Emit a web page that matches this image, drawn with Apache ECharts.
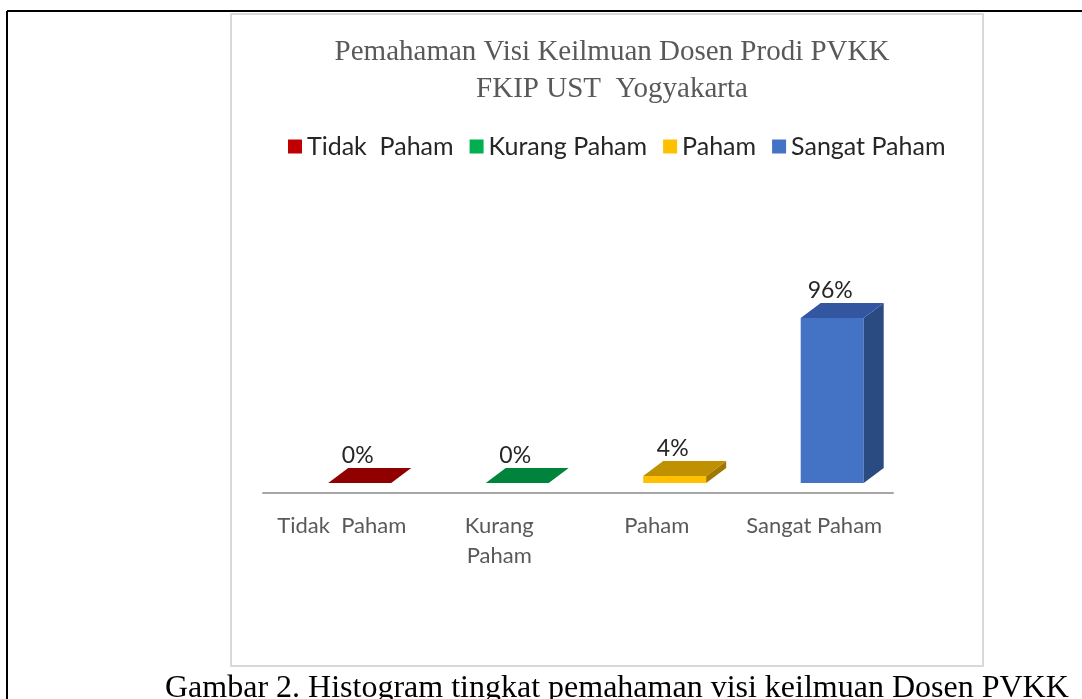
<!DOCTYPE html>
<html>
<head>
<meta charset="utf-8">
<script src="https://cdn.jsdelivr.net/npm/echarts@6/dist/echarts.min.js"></script>
<style>
html,body{margin:0;padding:0;background:#fff;}
#chart{width:1082px;height:699px;}
</style>
</head>
<body>
<div id="chart"></div>
<script>
// ---- data ----
const categories = ['Tidak  Paham', 'Kurang Paham', 'Paham', 'Sangat Paham'];
const values = [0, 0, 4, 96];
const titleLines = ['Pemahaman Visi Keilmuan Dosen Prodi PVKK', 'FKIP UST  Yogyakarta'];
const captionText = 'Gambar 2. Histogram tingkat pemahaman visi keilmuan Dosen PVKK';

// ---- styles ----
const frontColors = ['#C00000', '#00B050', '#FFC000', '#4472C4'];
const topColors = ['#900000', '#00843C', '#BF9000', '#3356A0'];
const sideColors = ['#7A0000', '#006E33', '#A07800', '#2A4A82'];
const sansFont = 'Lato';

function makeRender(idx) {
  return function (params, api) {
    const ci = api.value(0), v = api.value(1);
    const t = api.coord([ci, v]);
    const b = api.coord([ci, 0]);
    const band = api.size([1, 0])[0];
    const w = band * 0.4;
    const x0 = b[0] - band * 0.086;
    const dx = 20, dy = 15;
    const ty = t[1], by = b[1];
    const children = [];
    if (by - ty > 0.5) {
      children.push({type: 'rect', shape: {x: x0, y: ty, width: w, height: by - ty}, style: {fill: frontColors[idx]}});
      children.push({type: 'polygon', shape: {points: [[x0 + w, ty], [x0 + w + dx, ty - dy], [x0 + w + dx, by - dy], [x0 + w, by]]}, style: {fill: sideColors[idx]}});
    }
    children.push({type: 'polygon', shape: {points: [[x0, ty], [x0 + w, ty], [x0 + w + dx, ty - dy], [x0 + dx, ty - dy]]}, style: {fill: topColors[idx]}});
    children.push({type: 'text', style: {x: x0 + w / 2 - 2, y: ty - dy - 1, text: v + '%', align: 'center', verticalAlign: 'bottom', fill: '#262626', font: '23px ' + sansFont}});
    return {type: 'group', children: children};
  };
}

const series = categories.map((c, i) => ({
  name: c,
  type: 'custom',
  renderItem: makeRender(i),
  itemStyle: {color: frontColors[i]},
  encode: {x: 0, y: 1},
  data: [[i, values[i]]],
  clip: false
}));

const chart = echarts.init(document.getElementById('chart'), null, {renderer: 'canvas'});
chart.setOption({
  animation: false,
  backgroundColor: '#ffffff',
  title: {
    text: titleLines.join('\n'),
    left: 607,
    top: 29,
    textAlign: 'center',
    textStyle: {fontFamily: 'Liberation Serif', fontSize: 29, fontWeight: 'normal', color: '#595959', lineHeight: 37}
  },
  legend: {
    top: 129,
    left: 283,
    itemWidth: 14,
    itemHeight: 14,
    itemGap: 16,
    icon: 'rect',
    textStyle: {fontFamily: sansFont, fontSize: 25, color: '#262626'},
    data: categories
  },
  grid: {left: 263, right: 189, top: 311, bottom: 216},
  xAxis: {
    type: 'category',
    data: categories,
    offset: 10,
    axisLine: {onZero: false, lineStyle: {color: '#A6A6A6', width: 2}},
    axisTick: {show: false},
    axisLabel: {
      interval: 0,
      color: '#595959', fontFamily: sansFont, fontSize: 22, lineHeight: 30, margin: 18,
      formatter: v => v === 'Kurang Paham' ? 'Kurang\nPaham' : v
    }
  },
  yAxis: {type: 'value', min: 0, max: 100, show: false},
  graphic: [
    {type: 'line', shape: {x1: 7, y1: 11, x2: 1082, y2: 11}, style: {stroke: '#000', lineWidth: 2}},
    {type: 'line', shape: {x1: 7, y1: 11, x2: 7, y2: 699}, style: {stroke: '#000', lineWidth: 2}},
    {type: 'rect', shape: {x: 231, y: 14, width: 752, height: 652}, style: {fill: 'none', stroke: '#D9D9D9', lineWidth: 2}},
    {type: 'text', x: 165, y: 673, style: {text: captionText, font: '32px "Liberation Serif"', fill: '#000', verticalAlign: 'top'}}
  ],
  series: series
});
</script>
</body>
</html>
